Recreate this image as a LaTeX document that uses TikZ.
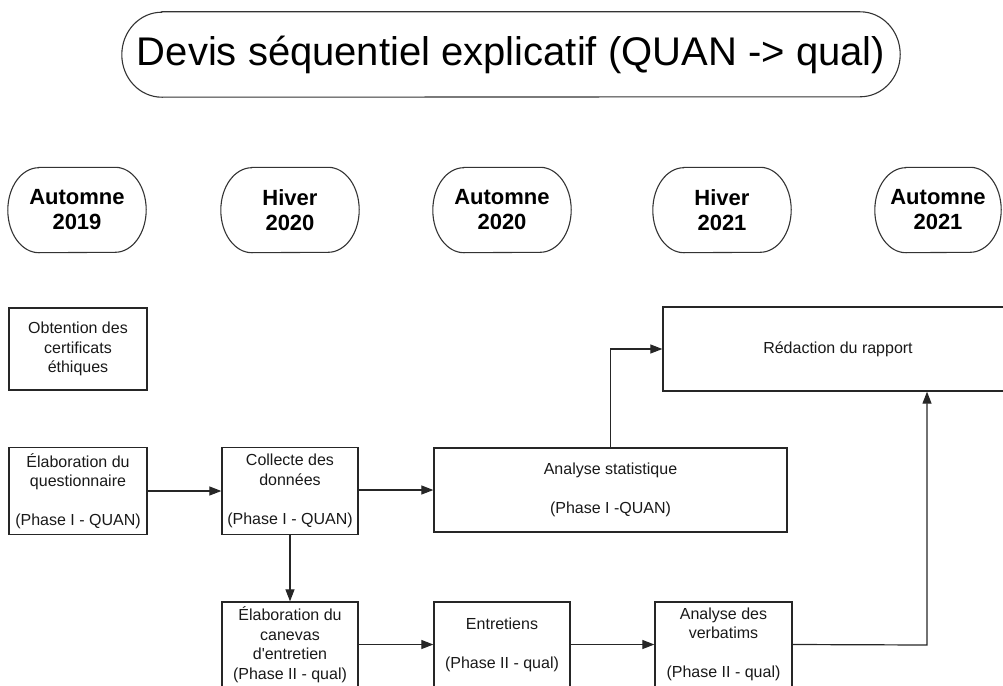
\documentclass[tikz,border=0pt]{standalone}
\usepackage{fontspec}
\setmainfont{Liberation Sans}
\usetikzlibrary{arrows.meta,calc}
\begin{document}
\begin{tikzpicture}[x=1pt,y=-1pt,
  frame/.style={draw=black!80, line width=1.1pt},
  txt/.style={inner sep=0pt, align=center},
  boxn/.style={draw=black!85, line width=1.3pt, inner sep=0pt, align=center,
    font=\fontsize{16}{19.5}\selectfont, text=black!90},
  season/.style={inner sep=0pt, align=center, minimum height=85pt,
    font=\bfseries\fontsize{22}{25}\selectfont},
  conn/.style={draw=black!85, line width=1.2pt, -{Triangle[length=12pt,width=9pt]}}
]
\useasboundingbox (0,0) rectangle (1003,685);
\clip (0,0) rectangle (1003,685);
\newcommand\ovalframe[3]{%
  \draw[frame] ([xshift=#2]#1.north west) -- ([xshift=-#2]#1.north east)
    arc[start angle=90,end angle=-90,x radius=#2,y radius=#3]
    -- ([xshift=#2]#1.south west)
    arc[start angle=270,end angle=90,x radius=#2,y radius=#3] -- cycle;}

% title
\node[txt, minimum width=778pt, minimum height=85pt,
  font=\fontsize{40}{48}\selectfont] (title) at (511,54.5)
  {Devis séquentiel explicatif (QUAN -> qual)};
\ovalframe{title}{40pt}{42.5pt}

% seasons
\node[season, minimum width=138pt] (s1) at (77,210) {Automne\\2019};
\node[season, minimum width=138pt] (s2) at (290,210) {Hiver\\2020};
\node[season, minimum width=138pt] (s3) at (502,210) {Automne\\2020};
\node[season, minimum width=138pt] (s4) at (722,210) {Hiver\\2021};
\node[season, minimum width=126pt] (s5) at (938,210) {Automne\\2021};
\foreach \s in {s1,s2,s3,s4,s5} {\ovalframe{\s}{31pt}{42.5pt}}

% boxes
\node[boxn, minimum width=138pt, minimum height=82pt] (cert) at (78,349)
  {Obtention des\\certificats\\éthiques};
\node[boxn, minimum width=138pt, minimum height=87pt] (quest) at (78,491)
  {Élaboration du\\questionnaire\\[19.5pt](Phase I - QUAN)};
\node[boxn, minimum width=136pt, minimum height=87pt] (coll) at (290,491)
  {Collecte des\\données\\[19.5pt](Phase I - QUAN)};
\node[boxn, minimum width=353pt, minimum height=84pt] (stat) at (610.5,490)
  {Analyse statistique\\[19.5pt](Phase I -QUAN)};
\node[boxn, minimum width=380pt, minimum height=84pt] (redac) at (853,349)
  {Rédaction du rapport\hspace*{30pt}};
\node[boxn, minimum width=136pt, minimum height=85pt] (canev) at (290,644.5)
  {Élaboration du\\canevas\\d\textquotesingle entretien\\(Phase II - qual)};
\node[boxn, minimum width=136pt, minimum height=85pt] (entr) at (502,644.5)
  {Entretiens\\[19.5pt](Phase II - qual)};
\node[boxn, minimum width=137pt, minimum height=85pt] (verb) at (723.5,644.5)
  {Analyse des\\verbatims\\[19.5pt](Phase II - qual)};

\coordinate (up) at (927,645);

% connectors
\draw[conn] (quest.east) -- (coll.west);
\draw[conn] (coll.east |- stat.west) -- (stat.west);
\draw[conn] (coll.south) -- (canev.north);
\draw[conn] (canev.east) -- (entr.west);
\draw[conn] (entr.east) -- (verb.west);
\draw[conn] (verb.east) -- (up) -- (up |- redac.south);
\draw[conn] (stat.north) |- (redac.west);
\end{tikzpicture}
\end{document}
